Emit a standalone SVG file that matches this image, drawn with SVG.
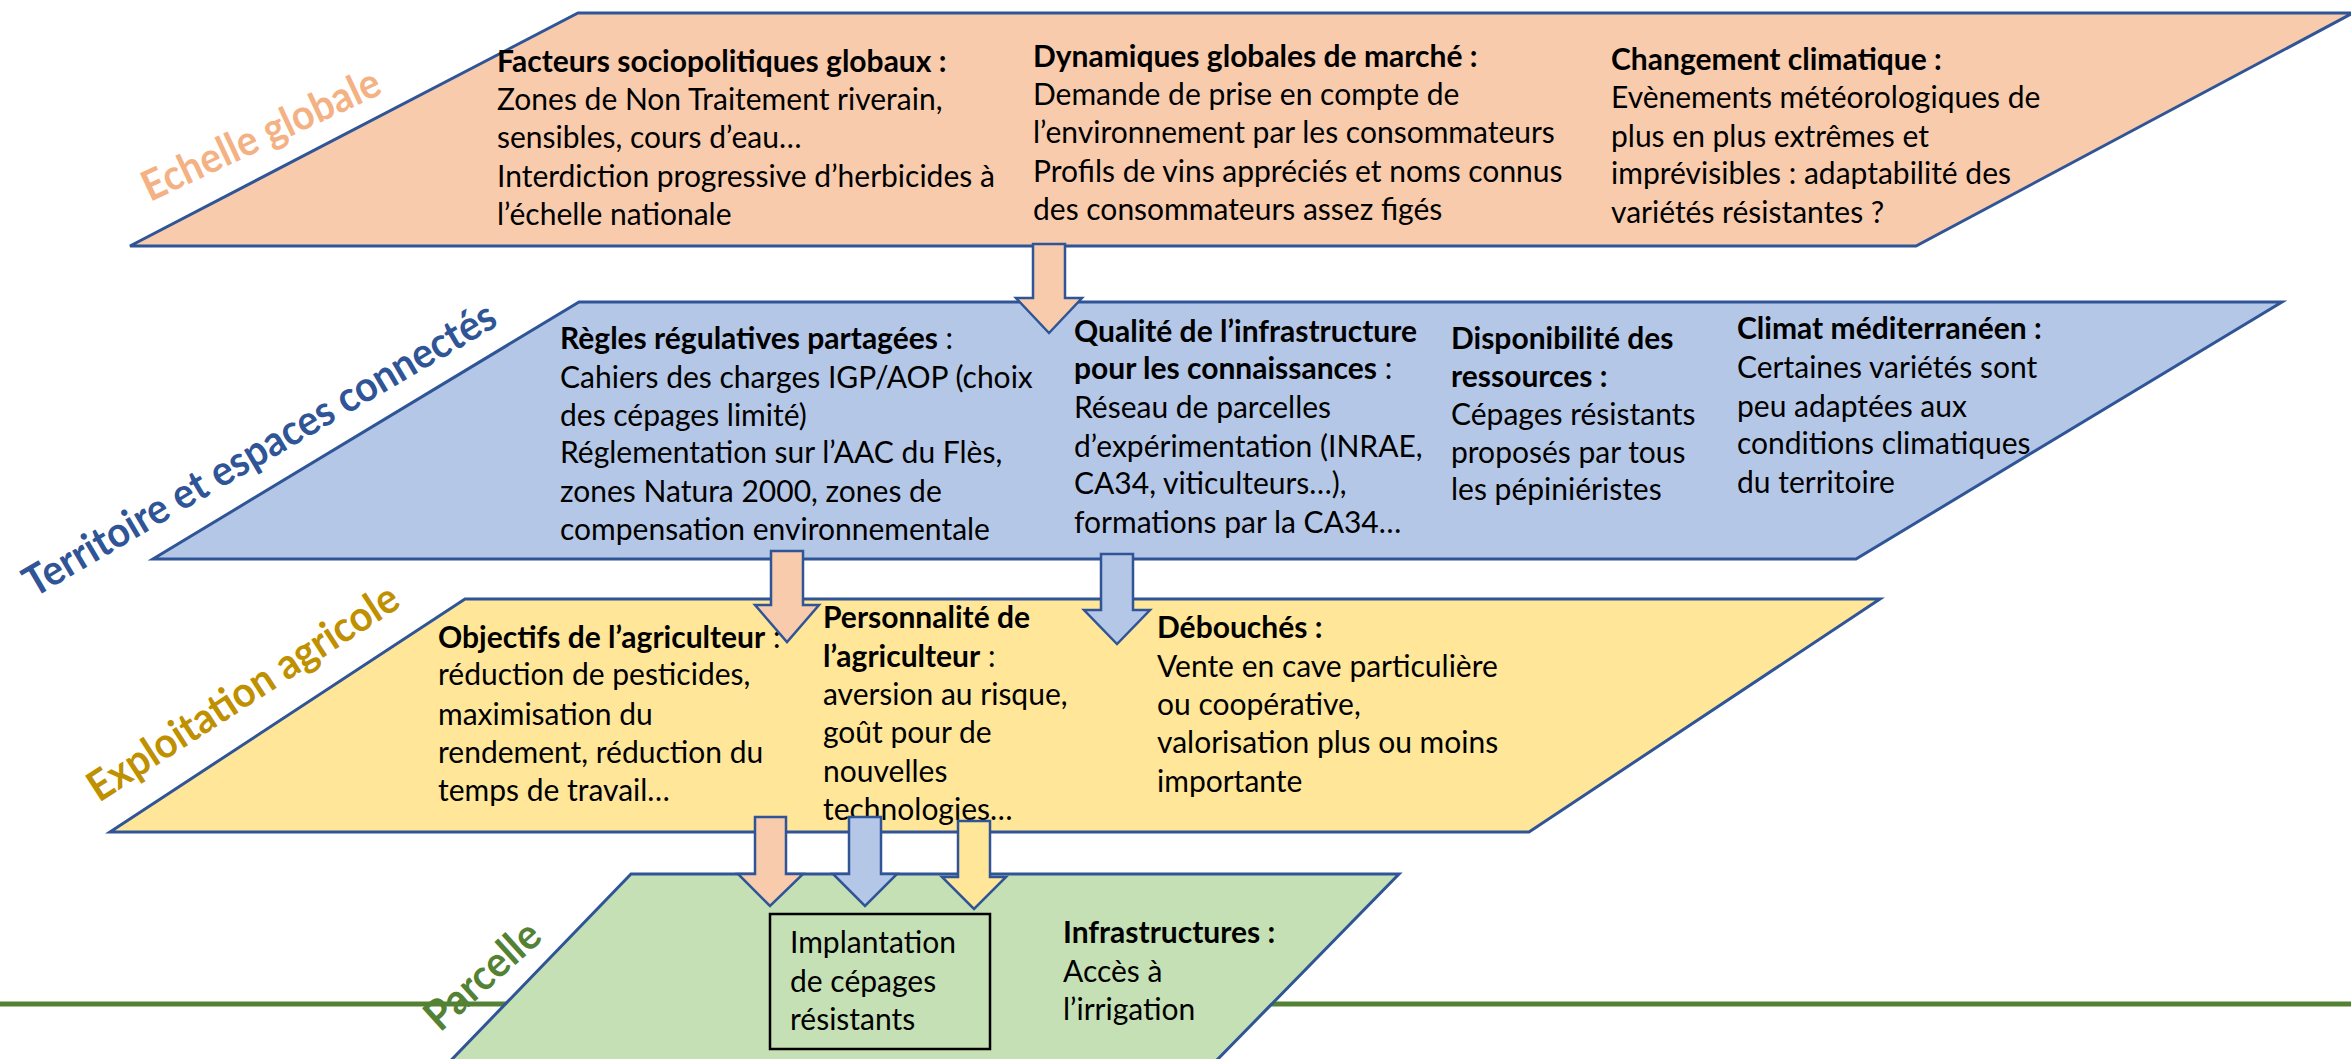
<svg xmlns="http://www.w3.org/2000/svg" width="2351" height="1059" viewBox="0 0 2351 1059">
<style>
.blk{stroke:#2F5597;stroke-width:3;stroke-linejoin:miter}
.arr{stroke:#2F5597;stroke-width:2.5;stroke-linejoin:miter}
.peach{fill:#F8CBAD}.blue{fill:#B4C7E7}.yellow{fill:#FFE699}.green{fill:#C5E0B4}
.t{font-family:Lato,"Liberation Sans",sans-serif;font-size:30px;fill:#000}
.b{font-weight:700}
.lbl{font-family:Lato,"Liberation Sans",sans-serif;font-size:42px;font-weight:700}
</style>
<rect x="0" y="0" width="2351" height="1059" fill="#FFFFFF"/>
<line x1="0" y1="1004" x2="2351" y2="1004" stroke="#548235" stroke-width="5"/>

<g id="echelle-globale">
<polygon class="blk peach" points="578,13 2353,13 1916,246 130,246"/>
<text class="lbl" fill="#F4B183" x="150" y="202" transform="rotate(-25 150 202)" textLength="258" lengthAdjust="spacingAndGlyphs">Echelle globale</text>
<text class="t"><tspan class="b" x="497" y="72">Facteurs sociopolitiques globaux :</tspan><tspan x="497" y="110">Zones de Non Traitement riverain,</tspan><tspan x="497" y="148">sensibles, cours d’eau…</tspan><tspan x="497" y="187">Interdiction progressive d’herbicides à</tspan><tspan x="497" y="225">l’échelle nationale</tspan></text>
<text class="t"><tspan class="b" x="1033" y="67">Dynamiques globales de marché :</tspan><tspan x="1033" y="105">Demande de prise en compte de</tspan><tspan x="1033" y="143">l’environnement par les consommateurs</tspan><tspan x="1033" y="182">Profils de vins appréciés et noms connus</tspan><tspan x="1033" y="220">des consommateurs assez figés</tspan></text>
<text class="t"><tspan class="b" x="1611" y="70">Changement climatique :</tspan><tspan x="1611" y="108">Evènements météorologiques de</tspan><tspan x="1611" y="147">plus en plus extrêmes et</tspan><tspan x="1611" y="184">imprévisibles : adaptabilité des</tspan><tspan x="1611" y="223">variétés résistantes ?</tspan></text>
</g>

<g id="territoire">
<polygon class="blk blue" points="579,302 2282,302 1856,559 153,559"/>
<text class="lbl" fill="#2F5597" x="34" y="598" transform="rotate(-30.4 34 598)" textLength="540" lengthAdjust="spacingAndGlyphs">Territoire et espaces connectés</text>
<text class="t"><tspan x="560" y="349"><tspan class="b">Règles régulatives partagées</tspan> :</tspan><tspan x="560" y="388">Cahiers des charges IGP/AOP (choix</tspan><tspan x="560" y="426">des cépages limité)</tspan><tspan x="560" y="463">Réglementation sur l’AAC du Flès,</tspan><tspan x="560" y="502">zones Natura 2000, zones de</tspan><tspan x="560" y="540">compensation environnementale</tspan></text>
<text class="t"><tspan class="b" x="1074" y="342">Qualité de l’infrastructure</tspan><tspan x="1074" y="379"><tspan class="b">pour les connaissances</tspan> :</tspan><tspan x="1074" y="418">Réseau de parcelles</tspan><tspan x="1074" y="457">d’expérimentation (INRAE,</tspan><tspan x="1074" y="494">CA34, viticulteurs…),</tspan><tspan x="1074" y="533">formations par la CA34…</tspan></text>
<text class="t"><tspan class="b" x="1451" y="349">Disponibilité des</tspan><tspan class="b" x="1451" y="387">ressources :</tspan><tspan x="1451" y="425">Cépages résistants</tspan><tspan x="1451" y="463">proposés par tous</tspan><tspan x="1451" y="500">les pépiniéristes</tspan></text>
<text class="t"><tspan class="b" x="1737" y="339">Climat méditerranéen :</tspan><tspan x="1737" y="378">Certaines variétés sont</tspan><tspan x="1737" y="417">peu adaptées aux</tspan><tspan x="1737" y="454">conditions climatiques</tspan><tspan x="1737" y="493">du territoire</tspan></text>
</g>

<g id="exploitation">
<polygon class="blk yellow" points="465,599 1880,599 1529,832 110,832"/>
<text class="lbl" fill="#BF9000" x="99" y="803" transform="rotate(-33 99 803)" textLength="362" lengthAdjust="spacingAndGlyphs">Exploitation agricole</text>
<text class="t"><tspan x="438" y="648"><tspan class="b">Objectifs de l’agriculteur</tspan> :</tspan><tspan x="438" y="685">réduction de pesticides,</tspan><tspan x="438" y="725">maximisation du</tspan><tspan x="438" y="763">rendement, réduction du</tspan><tspan x="438" y="801">temps de travail…</tspan></text>
<text class="t"><tspan class="b" x="823" y="628">Personnalité de</tspan><tspan x="823" y="667"><tspan class="b">l’agriculteur</tspan> :</tspan><tspan x="823" y="705">aversion au risque,</tspan><tspan x="823" y="743">goût pour de</tspan><tspan x="823" y="782">nouvelles</tspan><tspan x="823" y="820">technologies…</tspan></text>
<text class="t"><tspan class="b" x="1157" y="638">Débouchés :</tspan><tspan x="1157" y="677">Vente en cave particulière</tspan><tspan x="1157" y="715">ou coopérative,</tspan><tspan x="1157" y="753">valorisation plus ou moins</tspan><tspan x="1157" y="792">importante</tspan></text>
</g>

<g id="parcelle">
<polygon class="blk green" points="631,874 1399,874 1168,1110 403,1110"/>
<text class="lbl" fill="#548235" x="440" y="1033" transform="rotate(-42 440 1033)" textLength="140" lengthAdjust="spacingAndGlyphs">Parcelle</text>
<text class="t"><tspan class="b" x="1063" y="943">Infrastructures :</tspan><tspan x="1063" y="982">Accès à</tspan><tspan x="1063" y="1020">l’irrigation</tspan></text>
</g>

<g id="implantation">
<rect x="770" y="914" width="220" height="135" fill="#C5E0B4" stroke="#000000" stroke-width="2.5"/>
<text class="t"><tspan x="790" y="953">Implantation</tspan><tspan x="790" y="992">de cépages</tspan><tspan x="790" y="1030">résistants</tspan></text>
</g>

<g id="connectors">
<polygon class="arr peach" points="1033,244 1065,244 1065,298 1082,298 1049,333 1016,298 1033,298"/>
<polygon class="arr peach" points="771,551 803,551 803,605 819,605 787,642 755,605 771,605"/>
<polygon class="arr blue" points="1101,554 1133,554 1133,610 1150,610 1117,644 1084,610 1101,610"/>
<polygon class="arr peach" points="755,817 786,817 786,874 803,874 770,906 738,874 755,874"/>
<polygon class="arr blue" points="849,817 881,817 881,874 897,874 865,906 833,874 849,874"/>
<polygon class="arr yellow" points="958,821 990,821 990,877 1006,877 974,909 942,877 958,877"/>
</g>
</svg>
